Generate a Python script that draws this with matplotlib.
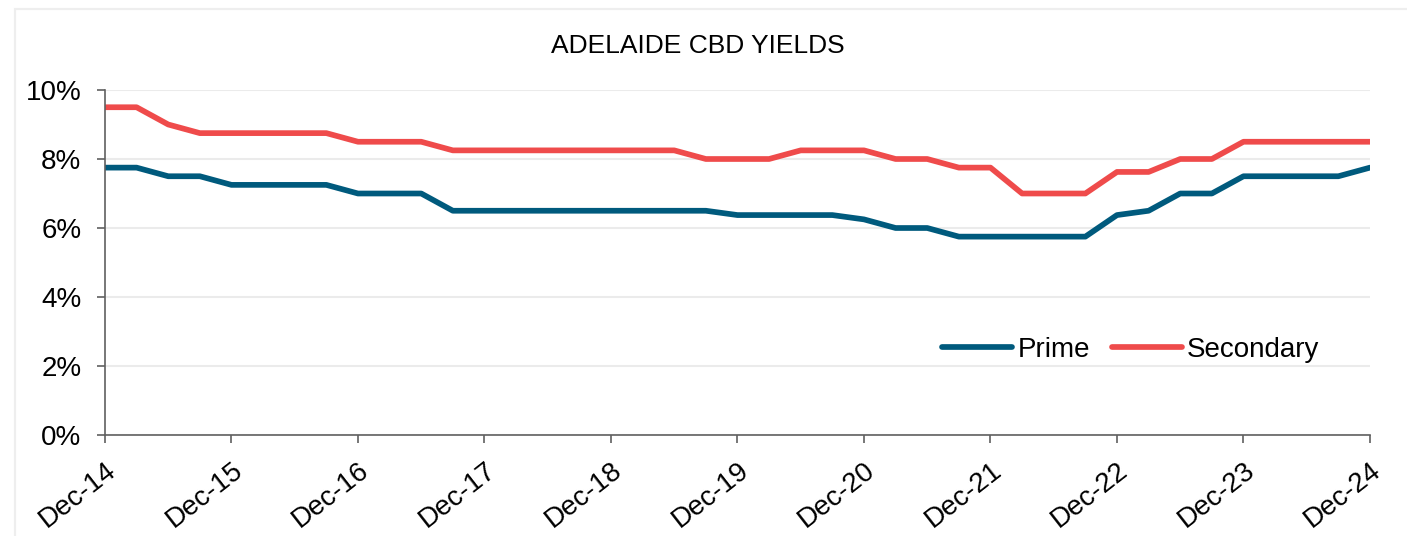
import matplotlib
matplotlib.use("Agg")
import matplotlib.pyplot as plt
import matplotlib.transforms as mtransforms
from matplotlib.patches import Rectangle
from matplotlib.ticker import FuncFormatter

# quarterly yields, Dec-14 to Dec-24 (%)
quarters = list(range(41))
prime = [7.75, 7.75, 7.5, 7.5, 7.25, 7.25, 7.25, 7.25, 7.0, 7.0, 7.0,
         6.5, 6.5, 6.5, 6.5, 6.5, 6.5, 6.5, 6.5, 6.5,
         6.375, 6.375, 6.375, 6.375, 6.25, 6.0, 6.0,
         5.75, 5.75, 5.75, 5.75, 5.75,
         6.375, 6.5, 7.0, 7.0, 7.5, 7.5, 7.5, 7.5, 7.75]
secondary = [9.5, 9.5, 9.0, 8.75, 8.75, 8.75, 8.75, 8.75, 8.5, 8.5, 8.5,
             8.25, 8.25, 8.25, 8.25, 8.25, 8.25, 8.25, 8.25,
             8.0, 8.0, 8.0, 8.25, 8.25, 8.25, 8.0, 8.0,
             7.75, 7.75, 7.0, 7.0, 7.0,
             7.625, 7.625, 8.0, 8.0, 8.5, 8.5, 8.5, 8.5, 8.5]
year_ticks = list(range(0, 41, 4))
year_labels = ['Dec-14', 'Dec-15', 'Dec-16', 'Dec-17', 'Dec-18', 'Dec-19',
               'Dec-20', 'Dec-21', 'Dec-22', 'Dec-23', 'Dec-24']

PRIME_COL = '#005a7d'
SEC_COL = '#ef4b4b'


def main():
    plt.rcParams['font.family'] = ['Liberation Sans', 'DejaVu Sans']

    fig = plt.figure(figsize=(14.07, 5.36), dpi=100)
    ax = fig.add_axes([0.0746, 0.1884, 0.8991, 0.6437])

    # faint frame around the whole chart
    fig.patches.append(Rectangle((15 / 1407, -0.2), 1.2, 1.2 - 9 / 536,
                                 transform=fig.transFigure, fill=False,
                                 edgecolor='#eeeeee', linewidth=1.6))

    ax.plot(quarters, prime, color=PRIME_COL, linewidth=4.1,
            solid_capstyle='round', label='Prime')
    ax.plot(quarters, secondary, color=SEC_COL, linewidth=4.1,
            solid_capstyle='round', label='Secondary')

    ax.set_xlim(0, 40)
    ax.set_ylim(0, 10)
    ax.set_yticks([0, 2, 4, 6, 8, 10])
    ax.yaxis.set_major_formatter(FuncFormatter(lambda v, p: f'{v:.0f}%'))
    ax.set_xticks(year_ticks)
    ax.set_xticklabels(year_labels, rotation=38, ha='right', va='top',
                       rotation_mode='anchor')
    # nudge the slanted date labels a little to the right
    shift = mtransforms.ScaledTranslation(5 / 100, 0, fig.dpi_scale_trans)
    for lbl in ax.get_xticklabels():
        lbl.set_transform(lbl.get_transform() + shift)

    ax.grid(axis='y', color='#ebebeb', linewidth=1.5)
    ax.set_axisbelow(True)
    for side in ['top', 'right']:
        ax.spines[side].set_visible(False)
    for side in ['left', 'bottom']:
        ax.spines[side].set_color('#606060')
        ax.spines[side].set_linewidth(1.2)
    ax.tick_params(axis='y', length=6, width=1.2, color='#606060',
                   labelsize=20, pad=11)
    ax.tick_params(axis='x', length=6, width=1.2, color='#606060',
                   labelsize=20, pad=10)

    fig.text(0.496, 0.914, 'ADELAIDE CBD YIELDS', ha='center', va='center',
             fontsize=19)

    ax.legend(loc='center left', bbox_to_anchor=(0.662, 0.246), ncol=2,
              frameon=False, fontsize=20, handlelength=2.5, borderpad=0,
              borderaxespad=0, handletextpad=0.2, columnspacing=0.8)

    fig.savefig('out.png', dpi=100)


if __name__ == "__main__":
    main()
